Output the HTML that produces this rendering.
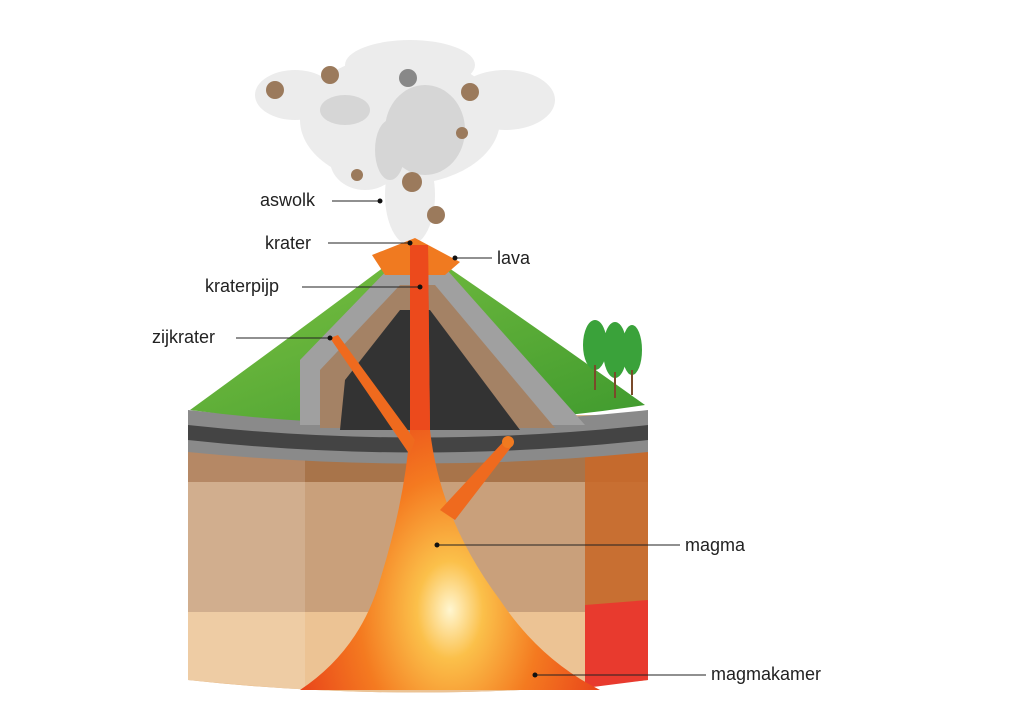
<!DOCTYPE html>
<html><head><meta charset="utf-8"><style>
html,body{margin:0;padding:0;background:#fff;}
svg{display:block}
text{font-family:"Liberation Sans",sans-serif;font-size:18px;fill:#222}
</style></head><body>
<svg width="1024" height="724" viewBox="0 0 1024 724">
<defs>
<radialGradient id="mg" cx="0.5" cy="0.82" r="0.55">
<stop offset="0" stop-color="#fff6d0"/><stop offset="0.2" stop-color="#fbc04a"/><stop offset="0.55" stop-color="#f47a20"/><stop offset="1" stop-color="#e8401a"/>
</radialGradient>
<linearGradient id="gr" x1="0" y1="0" x2="1" y2="1"><stop offset="0" stop-color="#7dc242"/><stop offset="1" stop-color="#3f9a2e"/></linearGradient>
</defs>
<!-- cloud -->
<g fill="#ececec">
<ellipse cx="400" cy="120" rx="100" ry="65"/>
<ellipse cx="295" cy="95" rx="40" ry="25"/>
<ellipse cx="505" cy="100" rx="50" ry="30"/>
<ellipse cx="410" cy="65" rx="65" ry="25"/>
<ellipse cx="410" cy="195" rx="25" ry="50"/>
<ellipse cx="365" cy="160" rx="35" ry="30"/>
</g>
<g fill="#d6d6d6"><ellipse cx="425" cy="130" rx="40" ry="45"/><ellipse cx="345" cy="110" rx="25" ry="15"/><ellipse cx="390" cy="150" rx="15" ry="30"/></g>
<g fill="#9b7a5c"><circle cx="275" cy="90" r="9"/><circle cx="330" cy="75" r="9"/><circle cx="470" cy="92" r="9"/><circle cx="462" cy="133" r="6"/><circle cx="357" cy="175" r="6"/><circle cx="412" cy="182" r="10"/><circle cx="436" cy="215" r="9"/></g>
<circle cx="408" cy="78" r="9" fill="#888"/>
<!-- block body -->
<path d="M188 415 L188 680 Q418 705 648 680 L648 415 Z" fill="#dcb58e"/>
<path d="M188 445 L648 445 L648 482 L188 482Z" fill="#a8744a"/>
<path d="M188 482 L648 482 L648 612 L188 612Z" fill="#c9a07b"/>
<path d="M188 612 L648 612 L648 680 Q418 705 188 680Z" fill="#ecc394"/>
<path d="M585 450 L648 450 L648 605 L585 615Z" fill="#c8692a" opacity="0.9"/>
<path d="M585 605 L648 600 L648 680 L585 688Z" fill="#e83a2e"/>
<path d="M188 415 L305 415 L305 690 L188 680Z" fill="#fff" opacity="0.15"/>
<!-- grey strata top -->
<path d="M188 410 Q418 435 648 410 L648 452 Q418 475 188 452Z" fill="#8a8a8a"/>
<path d="M188 425 Q418 450 648 425 L648 440 Q418 465 188 440Z" fill="#444"/>
<!-- mountain -->
<path d="M190 410 Q300 330 400 255 L430 255 Q540 330 645 405 Q418 440 190 410Z" fill="url(#gr)"/>
<path d="M300 425 L300 360 L395 262 L440 262 L585 425 Z" fill="#a0a0a0"/>
<path d="M320 428 L320 370 L400 285 L435 285 L555 428Z" fill="#a48265"/>
<path d="M340 430 L345 380 L400 310 L430 310 L520 430Z" fill="#333"/>
<path d="M372 255 L415 238 L460 262 L445 275 L385 275Z" fill="#f07a20"/>
<!-- magma -->
<path d="M410 245 L428 245 L430 430 Q440 520 500 600 Q540 660 600 690 L300 690 Q360 650 380 580 Q405 500 410 430Z" fill="url(#mg)"/>
<path d="M410 245 L428 245 L430 430 L410 430Z" fill="#ec4a1c"/>
<path d="M330 338 L338 335 L415 440 L410 455Z" fill="#ef6a1e"/>
<path d="M440 510 L505 440 L512 446 L455 520Z" fill="#ef6a1e"/>
<circle cx="508" cy="442" r="6" fill="#f07a20"/>
<!-- trees -->
<g fill="#3aa23a"><ellipse cx="595" cy="345" rx="12" ry="25"/><ellipse cx="615" cy="350" rx="12" ry="28"/><ellipse cx="632" cy="350" rx="10" ry="25"/></g>
<g stroke="#7a4a2a" stroke-width="2"><line x1="595" y1="365" x2="595" y2="390"/><line x1="615" y1="372" x2="615" y2="398"/><line x1="632" y1="370" x2="632" y2="395"/></g>
<!-- labels -->
<g stroke="#222" stroke-width="1" fill="none">
<line x1="332" y1="201" x2="380" y2="201"/>
<line x1="328" y1="243" x2="410" y2="243"/>
<line x1="455" y1="258" x2="492" y2="258"/>
<line x1="302" y1="287" x2="420" y2="287"/>
<line x1="236" y1="338" x2="330" y2="338"/>
<line x1="437" y1="545" x2="680" y2="545"/>
<line x1="535" y1="675" x2="706" y2="675"/>
</g>
<g fill="#111"><circle cx="380" cy="201" r="2.5"/><circle cx="410" cy="243" r="2.5"/><circle cx="455" cy="258" r="2.5"/><circle cx="420" cy="287" r="2.5"/><circle cx="330" cy="338" r="2.5"/><circle cx="437" cy="545" r="2.5"/><circle cx="535" cy="675" r="2.5"/></g>
<text x="260" y="206">aswolk</text>
<text x="265" y="249">krater</text>
<text x="497" y="264">lava</text>
<text x="205" y="292">kraterpijp</text>
<text x="152" y="343">zijkrater</text>
<text x="685" y="551">magma</text>
<text x="711" y="680">magmakamer</text>
</svg>
</body></html>
